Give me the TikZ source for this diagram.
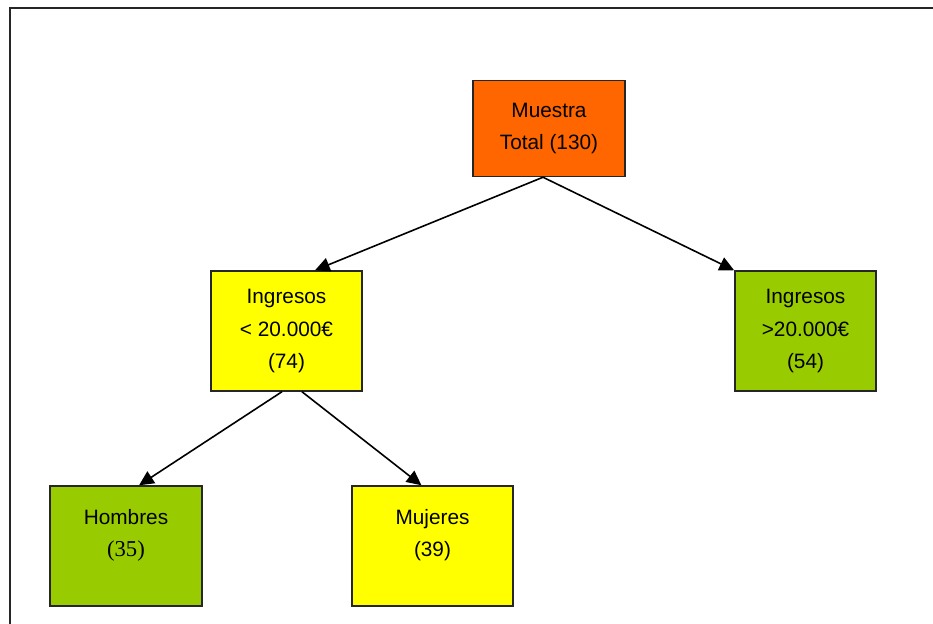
\documentclass[tikz,border=0pt]{standalone}
\usepackage{fontspec}
\setmainfont{Liberation Sans}
\newfontfamily\timesfont{Liberation Serif}
\usetikzlibrary{arrows.meta}
\definecolor{naranja}{HTML}{FF6600}
\definecolor{amarillo}{HTML}{FFFF00}
\definecolor{verde}{HTML}{99CC00}
\begin{document}
\begin{tikzpicture}[x=0.75pt,y=-0.75pt]
\path[use as bounding box] (0,0) rectangle (933,624);
\draw[line width=1.5pt,black!85] (10,624) -- (10,8.5) -- (933,8.5);

\begin{scope}[every node/.style={rectangle,draw=black!85,line width=1.1pt,inner sep=0pt,
  align=center,font=\fontsize{15.6}{24.3}\selectfont}]
	\node[fill=naranja,minimum width=114pt,minimum height=72pt] (M) at (549,128.5) {Muestra\\Total (130)};
	\node[fill=amarillo,minimum width=113pt,minimum height=90pt] (I1) at (286.5,331) {Ingresos\\< 20.000€\\(74)};
	\node[fill=verde,minimum width=106pt,minimum height=90pt] (I2) at (805.5,331) {Ingresos\\>20.000€\\(54)};
	\node[fill=verde,minimum width=114pt,minimum height=90pt] (H) at (126,546) {};
	\node[fill=amarillo,minimum width=121pt,minimum height=90pt] (W) at (432.5,546) {};
\end{scope}

\begin{scope}[every node/.style={align=center,inner sep=0pt,font=\fontsize{15.6}{24.3}\selectfont}]
	\node (Ht) at ([yshift=8pt]H.center) {Hombres\\{\timesfont\fontsize{17}{24.3}\selectfont (35)}};
	\node (Wt) at ([yshift=8pt]W.center) {Mujeres\\(39)};
\end{scope}

\begin{scope}[every edge/.style={draw=black,line width=1.2pt},>={Triangle[length=11pt,width=10.5pt]}]
	\path [->] ([xshift=-4.5pt]M.south) edge ([xshift=21.4pt]I1.north);
	\path [->] ([xshift=-4.5pt]M.south) edge (I2.north west);
	\path [->] ([xshift=-3.4pt]I1.south) edge ([xshift=9.8pt]H.north);
	\path [->] ([xshift=11.6pt]I1.south) edge ([xshift=-8.3pt]W.north);
\end{scope}
\end{tikzpicture}
\end{document}
